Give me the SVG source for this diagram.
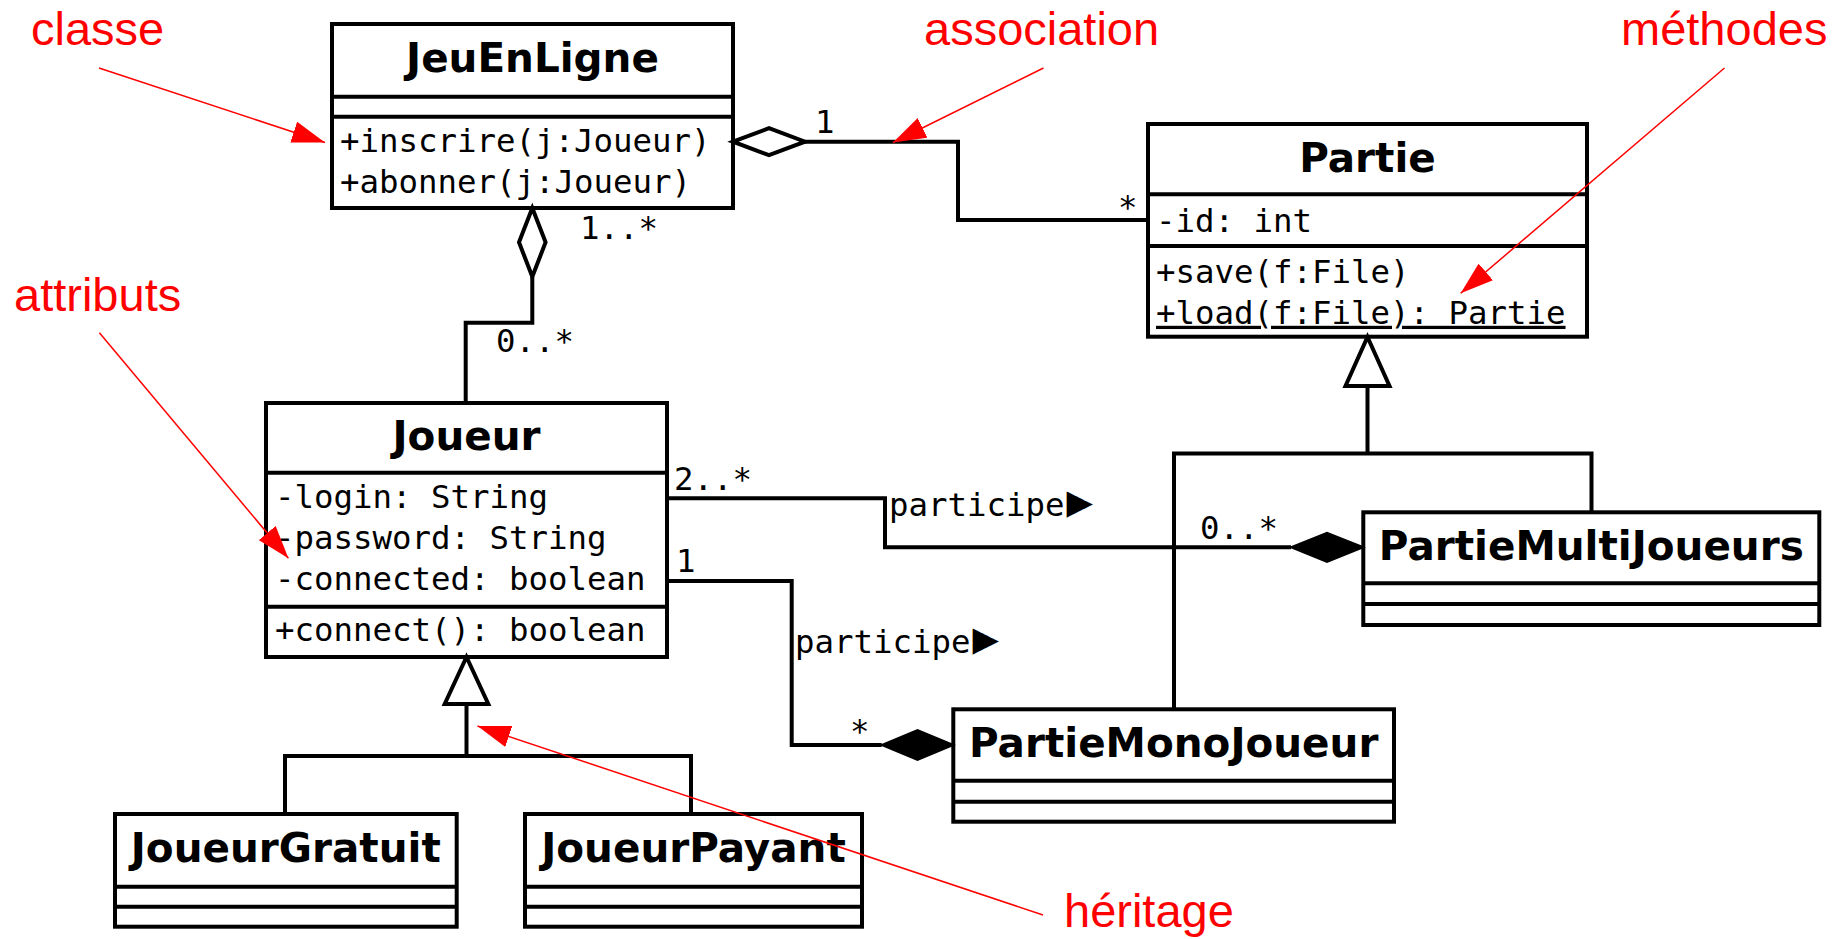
<svg xmlns="http://www.w3.org/2000/svg" width="1848" height="939" viewBox="0 0 1848 939">
  <defs>
    <style>
      .box{fill:#fff;stroke:#000;stroke-width:4}
      .sep{stroke:#000;stroke-width:4}
      .name{font-family:"DejaVu Sans",sans-serif;font-weight:bold;font-size:40.5px;text-anchor:middle;fill:#000}
      .mem{font-family:"DejaVu Sans Mono",monospace;font-size:32.4px;fill:#000}
      .dir{font-size:44px}
      .conn{fill:none;stroke:#000;stroke-width:4}
      .hollow{fill:#fff;stroke:#000;stroke-width:4;stroke-linejoin:miter}
      .solid{fill:#000;stroke:#000;stroke-width:2}
      .note{font-family:"Liberation Sans",Arial,sans-serif;font-size:47px;fill:#f00}
      .pointer{stroke:#f00;stroke-width:1.5;fill:none}
    </style>
    <marker id="redHead" markerUnits="userSpaceOnUse" viewBox="0 0 34 22" markerWidth="34" markerHeight="22" refX="33" refY="11" orient="auto">
      <path d="M0,0 L33,11 L0,22 Z" fill="#f00"/>
    </marker>
  </defs>

  <rect x="0" y="0" width="1848" height="939" fill="#fff"/>

  <!-- classes -->
  <g id="JeuEnLigne">
    <rect class="box" x="332" y="24" width="401" height="184"/>
    <line class="sep" x1="332" y1="96.7" x2="733" y2="96.7"/>
    <line class="sep" x1="332" y1="116.7" x2="733" y2="116.7"/>
    <text class="name" x="532.5" y="71.5">JeuEnLigne</text>
    <text class="mem" x="340" y="151.5">+inscrire(j:Joueur)</text>
    <text class="mem" x="340" y="192.5">+abonner(j:Joueur)</text>
  </g>

  <g id="Partie">
    <rect class="box" x="1148" y="124" width="439" height="212.7"/>
    <line class="sep" x1="1148" y1="194.3" x2="1587" y2="194.3"/>
    <line class="sep" x1="1148" y1="246" x2="1587" y2="246"/>
    <text class="name" x="1367.5" y="171.5">Partie</text>
    <text class="mem" x="1156" y="231.5">-id: int</text>
    <text class="mem" x="1156" y="282.5">+save(f:File)</text>
    <text class="mem" x="1156" y="323.8" text-decoration="underline">+load(f:File): Partie</text>
  </g>

  <g id="Joueur">
    <rect class="box" x="266" y="403" width="401" height="254"/>
    <line class="sep" x1="266" y1="472.7" x2="667" y2="472.7"/>
    <line class="sep" x1="266" y1="606.7" x2="667" y2="606.7"/>
    <text class="name" x="466.5" y="450">Joueur</text>
    <text class="mem" x="275" y="508.3">-login: String</text>
    <text class="mem" x="275" y="549.2">-password: String</text>
    <text class="mem" x="275" y="590">-connected: boolean</text>
    <text class="mem" x="275" y="640.7">+connect(): boolean</text>
  </g>

  <g id="JoueurGratuit">
    <rect class="box" x="115" y="814" width="341.7" height="112.7"/>
    <line class="sep" x1="115" y1="886.7" x2="456.7" y2="886.7"/>
    <line class="sep" x1="115" y1="906.7" x2="456.7" y2="906.7"/>
    <text class="name" x="285.8" y="861.7">JoueurGratuit</text>
  </g>

  <g id="JoueurPayant">
    <rect class="box" x="525" y="814" width="337" height="112.7"/>
    <line class="sep" x1="525" y1="886.7" x2="862" y2="886.7"/>
    <line class="sep" x1="525" y1="906.7" x2="862" y2="906.7"/>
    <text class="name" x="693.5" y="861.7">JoueurPayant</text>
  </g>

  <g id="PartieMonoJoueur">
    <rect class="box" x="953.3" y="709.3" width="440.7" height="112.4"/>
    <line class="sep" x1="953.3" y1="780.7" x2="1394" y2="780.7"/>
    <line class="sep" x1="953.3" y1="801.7" x2="1394" y2="801.7"/>
    <text class="name" x="1173.7" y="756.7">PartieMonoJoueur</text>
  </g>

  <g id="PartieMultiJoueurs">
    <rect class="box" x="1363.3" y="512.3" width="456" height="112.7"/>
    <line class="sep" x1="1363.3" y1="583.3" x2="1819.3" y2="583.3"/>
    <line class="sep" x1="1363.3" y1="604" x2="1819.3" y2="604"/>
    <text class="name" x="1591.3" y="560">PartieMultiJoueurs</text>
  </g>

  <!-- relations between classes -->
  <g id="connectors">
    <!-- JeuEnLigne <>— Partie -->
    <polyline class="conn" points="805,141.7 958,141.7 958,220 1148,220"/>
    <path class="hollow" d="M733,141.7 L769,128.2 L805,141.7 L769,155.2 Z"/>
    <text class="mem" x="815" y="133">1</text>
    <text class="mem" x="1118" y="218">*</text>

    <!-- JeuEnLigne <>— Joueur -->
    <polyline class="conn" points="532.3,276.7 532.3,322.7 465.7,322.7 465.7,403"/>
    <path class="hollow" d="M532.3,208 L545.6,242.3 L532.3,276.7 L519,242.3 Z"/>
    <text class="mem" x="580" y="239.3">1..*</text>
    <text class="mem" x="496" y="351.7">0..*</text>

    <!-- Joueur participe PartieMultiJoueurs -->
    <polyline class="conn" points="667,498.3 885,498.3 885,547.3 1291,547.3"/>
    <path class="solid" d="M1363.3,547.3 L1327,532.8 L1291,547.3 L1327,561.8 Z"/>
    <text class="mem" x="674" y="490">2..*</text>
    <text class="mem" x="1200" y="539">0..*</text>
    <text class="mem" x="889" y="516">participe<tspan class="dir" dx="2">▶</tspan></text>

    <!-- Joueur participe PartieMonoJoueur -->
    <polyline class="conn" points="667,581 791.7,581 791.7,745 881.7,745"/>
    <path class="solid" d="M953.3,745 L917.5,730 L881.7,745 L917.5,760 Z"/>
    <text class="mem" x="676" y="571.7">1</text>
    <text class="mem" x="850" y="741.5">*</text>
    <text class="mem" x="795" y="653.3">participe<tspan class="dir" dx="2">▶</tspan></text>

    <!-- Partie generalization -->
    <polyline class="conn" points="1367.5,386 1367.5,453.5"/>
    <polyline class="conn" points="1174,709.3 1174,453.5 1591.5,453.5 1591.5,512.3"/>
    <path class="hollow" d="M1367.5,337 L1389.5,386 L1345.5,386 Z"/>

    <!-- Joueur generalization -->
    <polyline class="conn" points="466.5,704 466.5,756"/>
    <polyline class="conn" points="285,814 285,756 691,756 691,814"/>
    <path class="hollow" d="M466.5,657 L488.3,704 L444.7,704 Z"/>
  </g>

  <!-- red call-outs -->
  <g id="annotations">
    <text class="note" x="31" y="45">classe</text>
    <line class="pointer" x1="99" y1="68" x2="325" y2="142.5" marker-end="url(#redHead)"/>

    <text class="note" x="924" y="45">association</text>
    <line class="pointer" x1="1043.5" y1="68" x2="893" y2="142.5" marker-end="url(#redHead)"/>

    <text class="note" x="1621" y="45">méthodes</text>
    <line class="pointer" x1="1724.5" y1="68" x2="1460.7" y2="293.3" marker-end="url(#redHead)"/>

    <text class="note" x="14" y="310.7">attributs</text>
    <line class="pointer" x1="99.4" y1="332.7" x2="288.4" y2="558.3" marker-end="url(#redHead)"/>

    <text class="note" x="1064" y="926.7">héritage</text>
    <line class="pointer" x1="1043" y1="915" x2="477.5" y2="726" marker-end="url(#redHead)"/>
  </g>
</svg>
